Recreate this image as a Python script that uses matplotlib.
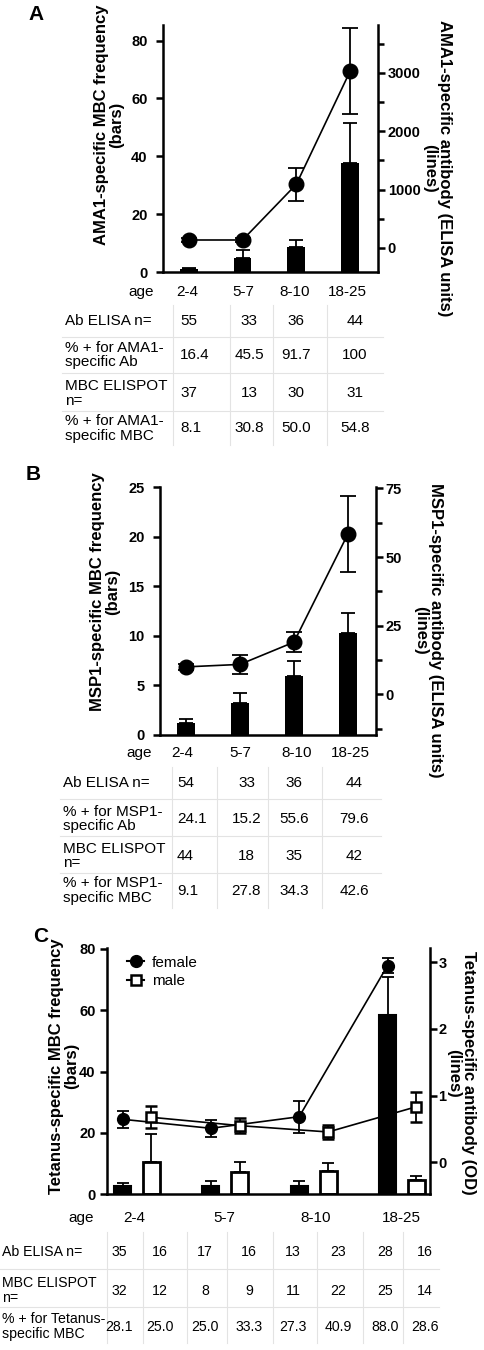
import matplotlib
matplotlib.use("Agg")
import matplotlib.pyplot as plt
import numpy as np
from matplotlib.ticker import MultipleLocator
from matplotlib.lines import Line2D

plt.rcParams['font.family'] = ['Liberation Sans', 'DejaVu Sans']

# ---------------- data ----------------
ages = ["2-4", "5-7", "8-10", "18-25"]

# Panel A (AMA1)
a_mbc = [1.2, 4.9, 8.8, 37.8]
a_mbc_err = [0.3, 2.6, 2.1, 13.8]
a_ab = [137, 137, 1090, 3025]
a_ab_err = [40, 40, 280, 736]
a_tab_labels = ["Ab ELISA n=", "% + for AMA1-\nspecific Ab", "MBC ELISPOT\nn=", "% + for AMA1-\nspecific MBC"]
a_tab = [["55", "33", "36", "44"],
         ["16.4", "45.5", "91.7", "100"],
         ["37", "13", "30", "31"],
         ["8.1", "30.8", "50.0", "54.8"]]

# Panel B (MSP1)
b_mbc = [1.24, 3.23, 5.92, 10.29]
b_mbc_err = [0.34, 1.01, 1.52, 1.99]
b_ab = [10.0, 10.9, 19.0, 58.4]
b_ab_err = [1.0, 3.5, 3.7, 13.9]
b_tab_labels = ["Ab ELISA n=", "% + for MSP1-\nspecific Ab", "MBC ELISPOT\nn=", "% + for MSP1-\nspecific MBC"]
b_tab = [["54", "33", "36", "44"],
         ["24.1", "15.2", "55.6", "79.6"],
         ["44", "18", "35", "42"],
         ["9.1", "27.8", "34.3", "42.6"]]

# Panel C (Tetanus)
c_f_mbc = [2.8, 2.8, 2.8, 58.5]
c_f_mbc_err = [0.8, 1.6, 1.5, 12.3]
c_m_mbc = [10.6, 7.2, 7.7, 4.7]
c_m_mbc_err = [9.1, 3.2, 2.4, 1.4]
c_f_ab = [0.645, 0.51, 0.684, 2.95]
c_f_ab_err = [0.125, 0.125, 0.24, 0.115]
c_m_ab = [0.675, 0.55, 0.455, 0.834]
c_m_ab_err = [0.165, 0.115, 0.11, 0.225]
c_tab_labels = ["Ab ELISA n=", "MBC ELISPOT\nn=", "% + for Tetanus-\nspecific MBC"]
c_tab = [["35", "16", "17", "16", "13", "23", "28", "16"],
         ["32", "12", "8", "9", "11", "22", "25", "14"],
         ["28.1", "25.0", "25.0", "33.3", "27.3", "40.9", "88.0", "28.6"]]

# ---------------- layout helpers ----------------
W, H = 485, 1350
fig = plt.figure(figsize=(W / 100, H / 100), dpi=100)


def fx(x):
    return x / W


def fy(y):
    return 1 - y / H


def make_axes(l, r, t, b):
    return fig.add_axes([fx(l), fy(b), (r - l) / W, (b - t) / H])


SPW = 1.8


def style_axes(ax, ax2, lpad, rpad):
    for s in ["top", "right"]:
        ax.spines[s].set_visible(False)
    for s in ["top", "left", "bottom"]:
        ax2.spines[s].set_visible(False)
    ax.spines["left"].set_linewidth(SPW)
    ax.spines["bottom"].set_linewidth(SPW)
    ax2.spines["right"].set_linewidth(SPW)
    ax.set_xticks([])
    ax2.set_xticks([])
    ax.tick_params(axis="y", direction="out", length=5, width=SPW, labelsize=10.5, pad=lpad)
    ax2.tick_params(axis="y", which="major", direction="out", length=5, width=SPW, labelsize=10.5, pad=rpad)
    ax2.tick_params(axis="y", which="minor", direction="out", length=4, width=SPW)
    for lbl in ax.get_yticklabels() + ax2.get_yticklabels():
        lbl.set_fontweight("bold")


def vlabel(x, y, text, rot):
    fig.text(fx(x), fy(y), text, rotation=rot, ha="center", va="center",
             fontsize=12, fontweight="bold", multialignment="center", linespacing=1.0)


def table(age_x, age_y, head_x, head_y, label_x, row_y, labels, col_x, col_ha, rows,
          hlines, hx0, hx1, vlines, vy0, vy1, fs=11):
    fig.text(fx(age_x), fy(age_y), "age", ha="right", va="center", fontsize=11)
    for hx, a in zip(head_x, ages):
        fig.text(fx(hx), fy(head_y), a, ha="center", va="center", fontsize=11)
    for ry, lab, vals in zip(row_y, labels, rows):
        fig.text(fx(label_x), fy(ry), lab, ha="left", va="center", fontsize=fs, linespacing=1.05)
        for cx, ha, v in zip(col_x, col_ha, vals):
            fig.text(fx(cx), fy(ry), v, ha=ha, va="center", fontsize=fs)
    for hy in hlines:
        fig.add_artist(Line2D([fx(hx0), fx(hx1)], [fy(hy), fy(hy)], color="#e3e3e3", lw=0.8))
    for vx in vlines:
        fig.add_artist(Line2D([fx(vx), fx(vx)], [fy(vy0), fy(vy1)], color="#e3e3e3", lw=0.8))


def panel_letter(x, y, s):
    fig.text(fx(x), fy(y), s, ha="center", va="center", fontsize=15, fontweight="bold",
             family=["Liberation Sans Narrow", "Liberation Sans"])


# ---------------- Panel A ----------------
x4 = np.arange(len(ages))
axA = make_axes(163, 378, 25, 272)
axA2 = axA.twinx()
axA.bar(x4, a_mbc, width=0.33, color="black", zorder=2)
axA.errorbar(x4, a_mbc, yerr=[np.zeros(4), a_mbc_err], fmt="none", ecolor="black",
             elinewidth=1.3, capsize=5, capthick=1.3, zorder=3)
axA2.errorbar(x4, a_ab, yerr=a_ab_err, fmt="-o", color="black", ms=10.5, lw=1.2,
              elinewidth=1.3, capsize=6, capthick=1.3)
axA.set_xlim(-0.48, 3.52)
axA.set_ylim(0, 85.4)
axA.set_yticks([0, 20, 40, 60, 80])
axA2.set_ylim(-411, 3818)
axA2.set_yticks([0, 1000, 2000, 3000])
axA2.yaxis.set_minor_locator(MultipleLocator(500))
style_axes(axA, axA2, 6, 2)
vlabel(109, 125, "AMA1-specific MBC frequency\n(bars)", 90)
vlabel(437, 168, "AMA1-specific antibody (ELISA units)\n(lines)", 270)
panel_letter(36, 14, "A")
table(154, 291.7, [187, 243, 295, 347], 291.7, 65, [320.7, 355, 393.3, 428.3], a_tab_labels,
      [180, 249, 296, 355], ["left", "center", "center", "center"], a_tab,
      [337, 373.3, 410.7], 62, 383, [173.3, 230, 272.7, 326.7], 305, 445)

# ---------------- Panel B ----------------
axB = make_axes(160, 376, 486.7, 735)
axB2 = axB.twinx()
axB.bar(x4, b_mbc, width=0.33, color="black", zorder=2)
axB.errorbar(x4, b_mbc, yerr=[np.zeros(4), b_mbc_err], fmt="none", ecolor="black",
             elinewidth=1.3, capsize=5, capthick=1.3, zorder=3)
axB2.errorbar(x4, b_ab, yerr=b_ab_err, fmt="-o", color="black", ms=10.5, lw=1.2,
              elinewidth=1.3, capsize=6, capthick=1.3)
axB.set_xlim(-0.48, 3.52)
axB.set_ylim(0, 25.05)
axB.set_yticks([0, 5, 10, 15, 20, 25])
axB2.set_ylim(-14.8, 75.6)
axB2.set_yticks([0, 25, 50, 75])
axB2.yaxis.set_minor_locator(MultipleLocator(12.5))
style_axes(axB, axB2, 6, 2)
vlabel(105, 592, "MSP1-specific MBC frequency\n(bars)", 90)
vlabel(428, 630, "MSP1-specific antibody (ELISA units)\n(lines)", 270)
panel_letter(33, 474, "B")
table(151.7, 753.3, [182.7, 240, 296.7, 350], 753.3, 62.7, [783.3, 819, 856, 890.7], b_tab_labels,
      [177, 246.5, 294, 354], ["left", "center", "center", "center"], b_tab,
      [799.3, 835.7, 873.3], 60, 381, [171.7, 217.3, 268.3, 322.3], 766.7, 908.3)

# ---------------- Panel C ----------------
off = 0.164
axC = make_axes(106.7, 430, 948.3, 1194.3)
axC2 = axC.twinx()
xf = x4 - off
xm = x4 + off
axC.bar(xf, c_f_mbc, width=0.19, color="black", edgecolor="black", lw=1.5, zorder=2)
axC.bar(xm, c_m_mbc, width=0.19, color="white", edgecolor="black", lw=2, zorder=2)
axC.errorbar(xf, c_f_mbc, yerr=[np.zeros(4), c_f_mbc_err], fmt="none", ecolor="black",
             elinewidth=1.3, capsize=4.5, capthick=1.3, zorder=3)
axC.errorbar(xm, c_m_mbc, yerr=[np.zeros(4), c_m_mbc_err], fmt="none", ecolor="black",
             elinewidth=1.3, capsize=4.5, capthick=1.3, zorder=3)
axC2.errorbar(xf, c_f_ab, yerr=c_f_ab_err, fmt="-o", color="black", ms=8.5, lw=1.2,
              elinewidth=1.3, capsize=4.5, capthick=1.3)
axC2.errorbar(xm, c_m_ab, yerr=c_m_ab_err, fmt="-s", color="black", mfc="white", mec="black",
              mew=1.8, ms=7, lw=1.2, elinewidth=1.3, capsize=4.5, capthick=1.3)
axC.set_xlim(-0.343, 3.317)
axC.set_ylim(0, 80.2)
axC.set_yticks([0, 20, 40, 60, 80])
axC2.set_ylim(-0.48, 3.21)
axC2.set_yticks([0, 1, 2, 3])
style_axes(axC, axC2, 3, 1)
h_f = Line2D([], [], marker="o", color="black", ms=8.5, lw=1.5)
h_m = Line2D([], [], marker="s", color="black", mfc="white", mec="black", mew=1.8, ms=7, lw=1.5)
axC2.legend(handles=[h_f, h_m], labels=["female", "male"], loc="upper left",
            bbox_to_anchor=(0.045, 0.995), frameon=False, fontsize=11, handlelength=1.1,
            handletextpad=0.5, labelspacing=0.3, borderaxespad=0.0)
vlabel(64, 1066, "Tetanus-specific MBC frequency\n(bars)", 90)
vlabel(461, 1073, "Tetanus-specific antibody (OD)\n(lines)", 270)
panel_letter(41, 937, "C")
table(94.3, 1217.7, [134, 224, 316, 401.7], 1217.7, 2, [1251.7, 1290.7, 1326.7], c_tab_labels,
      [119, 160, 205, 249, 293, 338, 385, 425], ["center"] * 8, c_tab,
      [1269, 1306.7], 0, 439, [107.3, 143.3, 187.3, 227.3, 273.3, 316.7, 363.3, 403.3], 1231.7, 1343.3,
      fs=10.2)

fig.savefig("out.png", dpi=100)
